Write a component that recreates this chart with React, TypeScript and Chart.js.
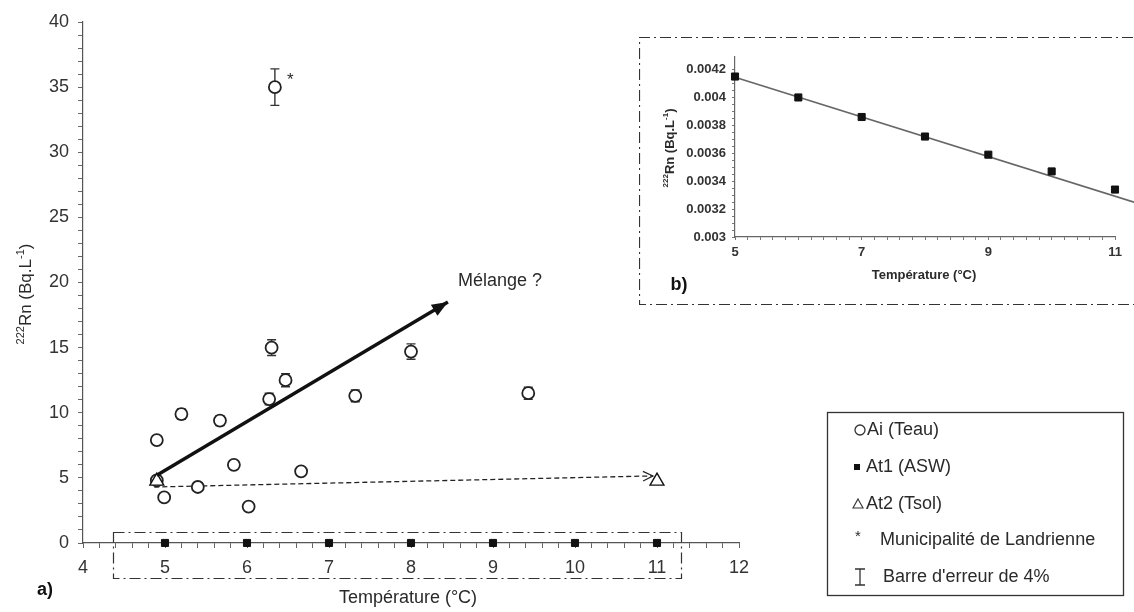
import React, { useEffect, useRef } from 'react';
import { Chart, registerables } from 'chart.js';

Chart.register(...registerables);
Chart.defaults.font.family = '"Liberation Sans", Arial, sans-serif';

// ---- Main chart (a) data ----
const aiTemp = [4.9, 4.9, 4.99, 5.2, 5.4, 5.67, 5.84, 6.02, 6.27, 6.3, 6.47, 6.66, 7.32, 8.0, 9.43, 6.34];
const aiRn = [7.9, 4.8, 3.5, 9.9, 4.3, 9.4, 6.0, 2.8, 11.05, 15.0, 12.5, 5.5, 11.3, 14.7, 11.5, 35.0];
const landrienneIndex = 15;
const errorFraction = 0.04;

const at1Temp = [5, 6, 7, 8, 9, 10, 11];
const at1Rn = [0.00415, 0.004, 0.00386, 0.00372, 0.00359, 0.00347, 0.00334];

const at2Temp = [4.9, 11.0];
const at2Rn = [4.75, 4.75];

const mixArrowTemp = [4.9, 8.45];
const mixArrowRn = [5.2, 18.5];
const dashArrowTemp = [4.87, 10.95];
const dashArrowRn = [4.3, 5.15];

const mainXTicks = [4, 5, 6, 7, 8, 9, 10, 11, 12];
const mainYTicks = [0, 5, 10, 15, 20, 25, 30, 35, 40];
const mainXMinorPerMajor = 5;
const mainYMinorPerMajor = 5;

// ---- Inset chart (b) data ----
const fitTemp = [5, 11.3];
const fitRn = [0.004145, 0.00325];
const insetXTicks = [5, 7, 9, 11];
const insetYTicks = [0.003, 0.0032, 0.0034, 0.0036, 0.0038, 0.004, 0.0042];
const insetXMinorPerMajor = 10;
const insetYMinorPerMajor = 4;

const legendItems = ['Ai (Teau)', 'At1 (ASW)', 'At2 (Tsol)', 'Municipalité de Landrienne', "Barre d'erreur de 4%"];

const FONT = '"Liberation Sans", Arial, sans-serif';
const INK = '#2a2a2a';

function subdivide(majors: number[], per: number) {
  const out: { value: number; major: boolean }[] = [];
  for (let i = 0; i < majors.length; i++) {
    out.push({ value: majors[i], major: true });
    if (i < majors.length - 1) {
      const step = (majors[i + 1] - majors[i]) / per;
      for (let k = 1; k < per; k++) out.push({ value: majors[i] + step * k, major: false });
    }
  }
  return out;
}

type Seg = { t: string; sup?: boolean };
function drawRich(ctx: CanvasRenderingContext2D, segs: Seg[], x: number, y: number, rot: number, baseFont: string, supFont: string, supShift: number, color: string) {
  ctx.save();
  ctx.translate(x, y);
  ctx.rotate(rot);
  ctx.fillStyle = color;
  ctx.textBaseline = 'middle';
  ctx.textAlign = 'left';
  let total = 0;
  const widths = segs.map((s) => {
    ctx.font = s.sup ? supFont : baseFont;
    const w = ctx.measureText(s.t).width;
    total += w;
    return w;
  });
  let cx = -total / 2;
  segs.forEach((s, i) => {
    ctx.font = s.sup ? supFont : baseFont;
    ctx.fillText(s.t, cx, s.sup ? -supShift : 0);
    cx += widths[i];
  });
  ctx.restore();
}

const rnTitle: Seg[] = [{ t: '222', sup: true }, { t: 'Rn (Bq.L' }, { t: '-1', sup: true }, { t: ')' }];

const mainPlugin = {
  id: 'mainDecor',
  beforeDatasetsDraw(chart: any) {
    const ctx: CanvasRenderingContext2D = chart.ctx;
    const ys = chart.scales.y;
    const meta = chart.getDatasetMeta(0);
    ctx.save();
    ctx.strokeStyle = '#333';
    ctx.lineWidth = 1.4;
    meta.data.forEach((pt: any, i: number) => {
      const v = aiRn[i];
      const top = ys.getPixelForValue(v * (1 + errorFraction));
      const bot = ys.getPixelForValue(v * (1 - errorFraction));
      ctx.beginPath();
      ctx.moveTo(pt.x, top); ctx.lineTo(pt.x, bot);
      ctx.moveTo(pt.x - 4.5, top); ctx.lineTo(pt.x + 4.5, top);
      ctx.moveTo(pt.x - 4.5, bot); ctx.lineTo(pt.x + 4.5, bot);
      ctx.stroke();
    });
    ctx.restore();
  },
  afterDraw(chart: any) {
    const ctx: CanvasRenderingContext2D = chart.ctx;
    const xs = chart.scales.x;
    const ys = chart.scales.y;
    ctx.save();
    // arrowheads
    const solid = chart.getDatasetMeta(3).data;
    if (solid.length === 2) {
      const a = solid[0], b = solid[1];
      const ang = Math.atan2(b.y - a.y, b.x - a.x);
      const L = 16, W = 6.5;
      ctx.fillStyle = '#111';
      ctx.beginPath();
      ctx.moveTo(b.x, b.y);
      ctx.lineTo(b.x - L * Math.cos(ang) + W * Math.sin(ang), b.y - L * Math.sin(ang) - W * Math.cos(ang));
      ctx.lineTo(b.x - L * Math.cos(ang) - W * Math.sin(ang), b.y - L * Math.sin(ang) + W * Math.cos(ang));
      ctx.closePath();
      ctx.fill();
    }
    const dashed = chart.getDatasetMeta(4).data;
    if (dashed.length === 2) {
      const a = dashed[0], b = dashed[1];
      const ang = Math.atan2(b.y - a.y, b.x - a.x);
      const L = 11;
      ctx.strokeStyle = '#222';
      ctx.lineWidth = 1.2;
      ctx.beginPath();
      ctx.moveTo(b.x - L * Math.cos(ang - 0.45), b.y - L * Math.sin(ang - 0.45));
      ctx.lineTo(b.x, b.y);
      ctx.lineTo(b.x - L * Math.cos(ang + 0.45), b.y - L * Math.sin(ang + 0.45));
      ctx.stroke();
    }
    // dash-dot box around the At1 points
    const bl = xs.getPixelForValue(4.37);
    const br = xs.getPixelForValue(11.3);
    const bt = ys.getPixelForValue(0.85);
    const bb = ys.bottom + 35;
    ctx.strokeStyle = '#333';
    ctx.lineWidth = 1.2;
    ctx.setLineDash([11, 4, 2, 4]);
    ctx.strokeRect(Math.round(bl) + 0.5, Math.round(bt) + 0.5, Math.round(br - bl), Math.round(bb - bt));
    ctx.setLineDash([]);
    // asterisk for Landrienne
    const lp = chart.getDatasetMeta(0).data[landrienneIndex];
    ctx.fillStyle = INK;
    ctx.font = `17px ${FONT}`;
    ctx.textAlign = 'left';
    ctx.textBaseline = 'middle';
    ctx.fillText('*', lp.x + 12, lp.y - 7);
    // Mélange ?
    ctx.font = `18px ${FONT}`;
    ctx.fillText('Mélange ?', 458, 281);
    // axis titles
    ctx.textAlign = 'center';
    ctx.fillText('Température (°C)', 408, 598);
    drawRich(ctx, rnTitle, 26, 294, -Math.PI / 2, `17px ${FONT}`, `11px ${FONT}`, 5, INK);
    ctx.font = `bold 18px ${FONT}`;
    ctx.fillStyle = '#111';
    ctx.fillText('a)', 45, 590);
    // legend
    ctx.strokeStyle = '#333';
    ctx.lineWidth = 1.3;
    ctx.strokeRect(827.5, 412.5, 296, 183);
    const rows = [430, 467, 504, 540, 577];
    ctx.fillStyle = INK;
    ctx.textAlign = 'left';
    ctx.textBaseline = 'middle';
    ctx.font = `18px ${FONT}`;
    // row 1 circle
    ctx.lineWidth = 1.3;
    ctx.beginPath(); ctx.arc(860, rows[0], 5, 0, Math.PI * 2); ctx.stroke();
    ctx.fillText(legendItems[0], 867, rows[0]);
    // row 2 square
    ctx.fillStyle = '#111';
    ctx.fillRect(854, rows[1] - 3, 6, 6);
    ctx.fillStyle = INK;
    ctx.fillText(legendItems[1], 866, rows[1]);
    // row 3 triangle
    ctx.beginPath();
    ctx.moveTo(858, rows[2] - 5); ctx.lineTo(863, rows[2] + 4); ctx.lineTo(853, rows[2] + 4); ctx.closePath();
    ctx.lineWidth = 1.1; ctx.stroke();
    ctx.fillText(legendItems[2], 866, rows[2]);
    // row 4 asterisk
    ctx.font = `15px ${FONT}`;
    ctx.fillText('*', 855, rows[3] - 3);
    ctx.font = `18px ${FONT}`;
    ctx.fillText(legendItems[3], 880, rows[3]);
    // row 5 error bar symbol
    ctx.lineWidth = 1.3;
    ctx.beginPath();
    ctx.moveTo(860, rows[4] - 8); ctx.lineTo(860, rows[4] + 8);
    ctx.moveTo(855, rows[4] - 8); ctx.lineTo(865, rows[4] - 8);
    ctx.moveTo(855, rows[4] + 8); ctx.lineTo(865, rows[4] + 8);
    ctx.stroke();
    ctx.fillText(legendItems[4], 883, rows[4]);
    ctx.restore();
  },
};

const insetPlugin = {
  id: 'insetDecor',
  afterDraw(chart: any) {
    const ctx: CanvasRenderingContext2D = chart.ctx;
    const w = chart.width, h = chart.height;
    ctx.save();
    ctx.strokeStyle = '#333';
    ctx.lineWidth = 1.2;
    ctx.setLineDash([11, 4, 2, 4]);
    ctx.beginPath();
    ctx.moveTo(w + 20, 0.5); ctx.lineTo(0.5, 0.5); ctx.lineTo(0.5, h - 0.5); ctx.lineTo(w + 20, h - 0.5);
    ctx.stroke();
    ctx.setLineDash([]);
    ctx.fillStyle = INK;
    ctx.textAlign = 'center';
    ctx.textBaseline = 'middle';
    ctx.font = `bold 13px ${FONT}`;
    ctx.fillText('Température (°C)', 285, 238);
    drawRich(ctx, rnTitle, 31, 111, -Math.PI / 2, `bold 13px ${FONT}`, `bold 8px ${FONT}`, 4, INK);
    ctx.font = `bold 18px ${FONT}`;
    ctx.fillStyle = '#111';
    ctx.fillText('b)', 40, 248);
    ctx.restore();
  },
};

export default function App() {
  const mainRef = useRef<HTMLCanvasElement>(null);
  const insetRef = useRef<HTMLCanvasElement>(null);

  useEffect(() => {
    const xMain = subdivide(mainXTicks, mainXMinorPerMajor);
    const yMain = subdivide(mainYTicks, mainYMinorPerMajor);
    const main = new Chart(mainRef.current as HTMLCanvasElement, {
      type: 'scatter',
      data: {
        datasets: [
          {
            label: 'Ai (Teau)',
            data: aiTemp.map((x, i) => ({ x, y: aiRn[i] })),
            pointStyle: 'circle',
            pointRadius: 6,
            pointBackgroundColor: '#fff',
            pointBorderColor: '#222',
            pointBorderWidth: 1.8,
            order: 2,
          },
          {
            label: 'At1 (ASW)',
            data: at1Temp.map((x, i) => ({ x, y: at1Rn[i] })),
            pointStyle: 'rect',
            pointRadius: 5,
            pointBackgroundColor: '#111',
            pointBorderColor: '#111',
            pointBorderWidth: 1,
            clip: false,
            order: 3,
          },
          {
            label: 'At2 (Tsol)',
            data: at2Temp.map((x, i) => ({ x, y: at2Rn[i] })),
            pointStyle: 'triangle',
            pointRadius: 8,
            pointBackgroundColor: '#fff',
            pointBorderColor: '#111',
            pointBorderWidth: 1.4,
            order: 1,
          },
          {
            type: 'line',
            label: 'mix',
            data: mixArrowTemp.map((x, i) => ({ x, y: mixArrowRn[i] })),
            borderColor: '#111',
            borderWidth: 3.4,
            pointRadius: 0,
            showLine: true,
            fill: false,
            order: 0,
          } as any,
          {
            type: 'line',
            label: 'dash',
            data: dashArrowTemp.map((x, i) => ({ x, y: dashArrowRn[i] })),
            borderColor: '#222',
            borderWidth: 1.3,
            borderDash: [5, 3],
            pointRadius: 0,
            showLine: true,
            fill: false,
            order: 4,
          } as any,
        ],
      },
      options: {
        animation: false,
        responsive: true,
        maintainAspectRatio: false,
        layout: { padding: { left: 0, top: 22, right: 395, bottom: 0 } },
        plugins: { legend: { display: false }, tooltip: { enabled: false } },
        scales: {
          x: {
            type: 'linear',
            min: 4,
            max: 12,
            afterBuildTicks: (s: any) => { s.ticks = xMain.map((t) => ({ value: t.value, major: t.major })); },
            afterFit: (s: any) => { s.height = 69; },
            ticks: {
              autoSkip: false,
              maxRotation: 0,
              minRotation: 0,
              padding: 9,
              color: '#333',
              font: { size: 18 },
              callback: (v: any, i: number) => (xMain[i] && xMain[i].major ? String(Math.round(xMain[i].value)) : ''),
            },
            grid: { drawOnChartArea: false, drawTicks: true, tickLength: 5, color: '#666', lineWidth: 1 },
            border: { display: true, color: '#555', width: 1.2 },
          },
          y: {
            type: 'linear',
            min: 0,
            max: 40,
            afterBuildTicks: (s: any) => { s.ticks = yMain.map((t) => ({ value: t.value, major: t.major })); },
            afterFit: (s: any) => { s.width = 83; },
            ticks: {
              autoSkip: false,
              padding: 9,
              color: '#333',
              font: { size: 18 },
              callback: (v: any, i: number) => (yMain[i] && yMain[i].major ? String(Math.round(yMain[i].value)) : ''),
            },
            grid: { drawOnChartArea: false, drawTicks: true, tickLength: 5, color: '#666', lineWidth: 1 },
            border: { display: true, color: '#555', width: 1.2 },
          },
        },
      },
      plugins: [mainPlugin],
    } as any);

    const xIn = subdivide(insetXTicks, insetXMinorPerMajor);
    const yIn = subdivide(insetYTicks, insetYMinorPerMajor);
    const inset = new Chart(insetRef.current as HTMLCanvasElement, {
      type: 'scatter',
      data: {
        datasets: [
          {
            label: 'At1',
            data: at1Temp.map((x, i) => ({ x, y: at1Rn[i] })),
            pointStyle: 'rect',
            pointRadius: 5,
            pointBackgroundColor: '#111',
            pointBorderColor: '#111',
            pointBorderWidth: 1,
            clip: false,
            order: 0,
          },
          {
            type: 'line',
            label: 'fit',
            data: fitTemp.map((x, i) => ({ x, y: fitRn[i] })),
            borderColor: '#666',
            borderWidth: 1.6,
            pointRadius: 0,
            showLine: true,
            fill: false,
            clip: false,
            order: 1,
          } as any,
        ],
      },
      options: {
        animation: false,
        responsive: true,
        maintainAspectRatio: false,
        layout: { padding: { left: 0, top: 20, right: 19, bottom: 0 } },
        plugins: { legend: { display: false }, tooltip: { enabled: false } },
        scales: {
          x: {
            type: 'linear',
            min: 5,
            max: 11,
            afterBuildTicks: (s: any) => { s.ticks = xIn.map((t) => ({ value: t.value, major: t.major })); },
            afterFit: (s: any) => { s.height = 68; },
            ticks: {
              autoSkip: false,
              maxRotation: 0,
              minRotation: 0,
              padding: 5,
              color: '#333',
              font: { size: 13, weight: 'bold' },
              callback: (v: any, i: number) => (xIn[i] && xIn[i].major ? String(Math.round(xIn[i].value)) : ''),
            },
            grid: { drawOnChartArea: false, drawTicks: true, tickLength: 3, color: '#777', lineWidth: 1 },
            border: { display: true, color: '#666', width: 1.2 },
          },
          y: {
            type: 'linear',
            min: 0.003,
            max: 0.00429,
            afterBuildTicks: (s: any) => { s.ticks = yIn.map((t) => ({ value: t.value, major: t.major })); },
            afterFit: (s: any) => { s.width = 96; },
            ticks: {
              autoSkip: false,
              padding: 6,
              color: '#333',
              font: { size: 13, weight: 'bold' },
              callback: (v: any, i: number) => (yIn[i] && yIn[i].major ? String(parseFloat(yIn[i].value.toFixed(4))) : ''),
            },
            grid: { drawOnChartArea: false, drawTicks: true, tickLength: 3, color: '#777', lineWidth: 1 },
            border: { display: true, color: '#666', width: 1.2 },
          },
        },
      },
      plugins: [insetPlugin],
    } as any);

    return () => {
      main.destroy();
      inset.destroy();
    };
  }, []);

  return (
    <div style={{ position: 'fixed', left: 0, top: 0, width: 1134, height: 612, overflow: 'hidden', background: '#fff' }}>
      <div style={{ position: 'absolute', left: 0, top: 0, width: 1134, height: 612 }}>
        <canvas ref={mainRef} />
      </div>
      <div style={{ position: 'absolute', left: 639, top: 37, width: 495, height: 268 }}>
        <canvas ref={insetRef} />
      </div>
    </div>
  );
}
